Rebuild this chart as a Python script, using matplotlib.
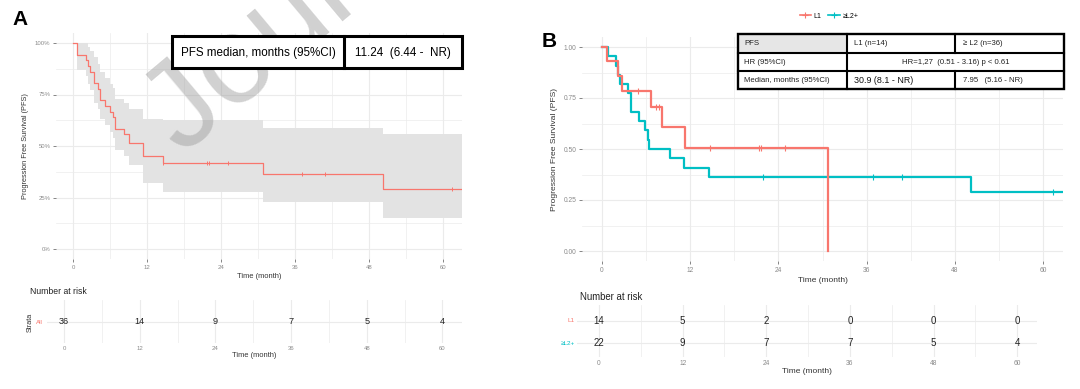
import numpy as np
import matplotlib
matplotlib.use("Agg")
import matplotlib.pyplot as plt
from matplotlib.patches import Rectangle
from matplotlib.lines import Line2D

plt.rcParams['font.family'] = ['Liberation Sans', 'DejaVu Sans']

# ---------------- data ----------------
# Panel A: all patients
a_times = [0, 0.7, 2.1, 2.5, 2.75, 3.4, 4.1, 4.4, 5.2, 6.0, 6.4, 6.8, 8.2, 9.0, 11.3, 14.6, 30.8, 50.2]
a_surv = [1.0, .944, .917, .889, .861, .806, .778, .722, .694, .667, .639, .583, .556, .513, .451, .416, .366, .293]
a_upper = [1.0, 1.0, 1.0, .98, .96, .93, .90, .86, .83, .80, .78, .73, .71, .68, .63, .626, .587, .558]
a_lower = [1.0, .87, .84, .80, .77, .71, .68, .63, .60, .57, .54, .48, .45, .41, .32, .278, .227, .149]
a_end = 63.0
a_censor = [14.6, 21.7, 22.1, 25.1, 37.1, 40.8, 61.4]

# Panel B: L1 vs >=L2+
b_l1_times = [0, 0.7, 2.2, 2.7, 6.6, 8.1, 11.3, 30.8]
b_l1_surv = [1.0, .929, .857, .786, .707, .606, .505, 0.0]
b_l1_end = 30.8
b_l1_censor = [4.9, 7.3, 7.8, 14.7, 21.3, 21.7, 24.9]

b_l2_times = [0, 0.85, 1.9, 2.2, 2.45, 3.6, 3.95, 5.1, 5.85, 6.2, 6.45, 9.2, 11.2, 14.6, 50.2]
b_l2_surv = [1.0, .955, .909, .864, .818, .773, .682, .636, .591, .545, .5, .455, .409, .364, .291]
b_l2_end = 62.7
b_l2_censor = [21.9, 36.9, 40.8, 61.3]

risk_times = [0, 12, 24, 36, 48, 60]
a_risk = [36, 14, 9, 7, 5, 4]
b_risk_l1 = [14, 5, 2, 0, 0, 0]
b_risk_l2 = [22, 9, 7, 7, 5, 4]

x_ticks = [0, 12, 24, 36, 48, 60]
b_labels = ['L1', '≥L2+']

RED = '#F8766D'
TEAL = '#00BFC4'
GRID = '#ebebeb'
W, H = 1080, 389

fig = plt.figure(figsize=(W / 100, H / 100), dpi=100)


def px_axes(l, t, r, b, **kw):
    return fig.add_axes([l / W, 1 - b / H, (r - l) / W, (b - t) / H], **kw)


def style_minimal(ax, xmin, xmax, ymaj, ymin_, tick_fs, tcol='#8a8a8a'):
    for s in ax.spines.values():
        s.set_visible(False)
    ax.set_facecolor('none')
    ax.set_xticks(x_ticks)
    ax.set_xticks([6, 18, 30, 42, 54], minor=True)
    ax.set_yticks(ymaj)
    ax.set_yticks(ymin_, minor=True)
    ax.grid(True, which='major', color=GRID, lw=0.8)
    ax.grid(True, which='minor', color=GRID, lw=0.5)
    ax.set_axisbelow(True)
    ax.tick_params(which='major', length=2, width=0.5, color='#555555',
                   labelsize=tick_fs, labelcolor=tcol, pad=2)
    ax.tick_params(which='minor', length=0)
    ax.set_xlim(xmin, xmax)


def km_xy(times, surv, end):
    return list(times) + [end], list(surv) + [surv[-1]]


def at_time(times, surv, t):
    idx = np.searchsorted(times, t, side='right') - 1
    return np.asarray(surv)[idx]


# ---------------- Panel A main ----------------
axA = px_axes(56, 32.7, 462, 259.3)
style_minimal(axA, -2.76, 63.0, [0, .25, .5, .75, 1.0], [.125, .375, .625, .875], 4.3)
axA.set_ylim(-0.05, 1.05)
axA.set_yticklabels(['0%', '25%', '50%', '75%', '100%'])
xs, lo = km_xy(a_times, a_lower, a_end)
_, up = km_xy(a_times, a_upper, a_end)
axA.fill_between(xs, lo, up, step='post', color='#e3e3e3', lw=0, zorder=2)
xs, ys = km_xy(a_times, a_surv, a_end)
axA.step(xs, ys, where='post', color=RED, lw=0.9, zorder=3)
axA.plot(a_censor, at_time(a_times, a_surv, a_censor), ls='none', marker='|',
         ms=3.5, mew=0.7, color=RED, zorder=3)
axA.set_ylabel('Progression Free Survival (PFS)', fontsize=5.3, color='#333333', labelpad=4)
axA.set_xlabel('Time (month)', fontsize=5.4, color='#333333', labelpad=2)

# ---------------- Panel A risk table ----------------
axAr = px_axes(47, 300, 462, 343)
style_minimal(axAr, -2.7, 63.1, [0.5], [], 4.3)
axAr.set_ylim(0, 1)
axAr.set_yticklabels([''])
axAr.tick_params(axis='y', length=0)
axAr.tick_params(axis='x', length=0)
for t, n in zip(risk_times, a_risk):
    axAr.text(t, 0.5, str(n), ha='center', va='center', fontsize=6.6, color='#222222')
axAr.set_xlabel('Time (month)', fontsize=5.4, color='#333333', labelpad=1)

# ---------------- Panel B main ----------------
axB = px_axes(582, 36.8, 1063, 261.2)
style_minimal(axB, -2.72, 62.72, [0, .25, .5, .75, 1.0], [.125, .375, .625, .875], 4.8)
axB.set_ylim(-0.05, 1.05)
axB.set_yticklabels(['0.00', '0.25', '0.50', '0.75', '1.00'])
xs, ys = km_xy(b_l2_times, b_l2_surv, b_l2_end)
axB.step(xs, ys, where='post', color=TEAL, lw=1.6, zorder=3)
xs, ys = km_xy(b_l1_times, b_l1_surv, b_l1_end)
axB.step(xs, ys, where='post', color=RED, lw=1.6, zorder=3)
axB.plot(b_l1_censor, at_time(b_l1_times, b_l1_surv, b_l1_censor), ls='none', marker='|',
         ms=4.5, mew=0.8, color=RED, zorder=4)
axB.plot(b_l2_censor, at_time(b_l2_times, b_l2_surv, b_l2_censor), ls='none', marker='|',
         ms=4.5, mew=0.8, color=TEAL, zorder=4)
axB.set_ylabel('Progression Free Survival (PFS)', fontsize=6.1, color='#333333', labelpad=4)
axB.set_xlabel('Time (month)', fontsize=6.0, color='#333333', labelpad=2)

# ---------------- Panel B risk table ----------------
axBr = px_axes(577, 305, 1037, 357)
style_minimal(axBr, -3.16, 62.84, [1, 2], [], 4.8)
axBr.set_ylim(0.39, 2.69)
axBr.set_yticklabels(['', ''])
axBr.tick_params(axis='y', length=0)
axBr.tick_params(axis='x', length=0)
for t, n1, n2 in zip(risk_times, b_risk_l1, b_risk_l2):
    axBr.text(t, 2, str(n1), ha='center', va='center', fontsize=7.0, color='#222222')
    axBr.text(t, 1, str(n2), ha='center', va='center', fontsize=7.0, color='#222222')
axBr.set_xlabel('Time (month)', fontsize=6.0, color='#333333', labelpad=1)

# ---------------- overlay: labels, tables, watermark ----------------
ov = fig.add_axes([0, 0, 1, 1], zorder=10)
ov.set_xlim(0, W)
ov.set_ylim(H, 0)
ov.axis('off')
ov.patch.set_alpha(0)

ov.text(182, 156, 'Journal Pre-proof', rotation=40, rotation_mode='anchor',
        fontsize=90, color='#9a9a9a', alpha=0.45, ha='left', va='baseline', zorder=1)

ov.text(12, 25, 'A', fontsize=15, fontweight='bold', ha='left', va='baseline', zorder=6)
ov.text(542, 47, 'B', fontsize=15, fontweight='bold', ha='left', va='baseline', zorder=6)

# Table A
ov.add_patch(Rectangle((172, 36), 290, 32, facecolor='white', edgecolor='black', lw=2.2, zorder=5))
ov.plot([344, 344], [36, 68], color='black', lw=2.2, zorder=6)
ov.text(258, 52.5, 'PFS median, months (95%CI)', fontsize=8.4, ha='center', va='center', zorder=7)
ov.text(403, 52.5, '11.24  (6.44 -  NR)', fontsize=8.4, ha='center', va='center', zorder=7)

# Table B
ov.add_patch(Rectangle((738, 34), 326, 55, facecolor='white', edgecolor='none', zorder=5))
ov.add_patch(Rectangle((738, 34), 109, 19, facecolor='#e6e6e6', edgecolor='none', zorder=5))
ov.add_patch(Rectangle((738, 34), 326, 55, facecolor='none', edgecolor='black', lw=1.7, zorder=6))
for yy in (53, 71):
    ov.plot([738, 1064], [yy, yy], color='black', lw=1.5, zorder=6)
ov.plot([847, 847], [34, 89], color='black', lw=1.5, zorder=6)
ov.plot([955, 955], [34, 53], color='black', lw=1.5, zorder=6)
ov.plot([955, 955], [71, 89], color='black', lw=1.5, zorder=6)
tkw = dict(fontsize=5.6, va='center', zorder=7, color='#222222')
ov.text(744, 43.5, 'PFS', ha='left', **tkw)
ov.text(854, 43.5, 'L1 (n=14)', ha='left', **tkw)
ov.text(963, 43.5, '≥ L2 (n=36)', ha='left', **tkw)
ov.text(744, 62, 'HR (95%CI)', ha='left', **tkw)
ov.text(956, 62, 'HR=1,27  (0.51 - 3.16) p < 0.61', ha='center', **tkw)
ov.text(744, 80, 'Median, months (95%CI)', ha='left', **tkw)
ov.text(854, 80, '30.9 (8.1 - NR)', ha='left', fontsize=6.4, va='center', zorder=7, color='#111111')
ov.text(963, 80, '7.95   (5.16 - NR)', ha='left', **tkw)

# risk table headers / strata labels
ov.text(30, 291, 'Number at risk', fontsize=6.2, ha='left', va='center', color='#222222', zorder=6)
ov.text(30, 322, 'Strata', fontsize=5.2, rotation=90, ha='center', va='center', color='#333333', zorder=6)
ov.text(43, 322, 'All', fontsize=4.5, ha='right', va='center', color=RED, zorder=6)
ov.text(580, 297, 'Number at risk', fontsize=6.9, ha='left', va='center', color='#222222', zorder=6)
ov.text(575, 320.7, b_labels[0], fontsize=4.6, ha='right', va='center', color=RED, zorder=6)
ov.text(575, 343.3, b_labels[1], fontsize=4.6, ha='right', va='center', color=TEAL, zorder=6)

# legend B
handles = [Line2D([], [], color=RED, lw=1.2, marker='+', ms=4, mew=0.8),
           Line2D([], [], color=TEAL, lw=1.2, marker='+', ms=4, mew=0.8)]
fig.legend(handles, b_labels, loc='center', bbox_to_anchor=(829 / W, 1 - 16 / H), ncol=2,
           frameon=False, fontsize=5, handlelength=1.6, handletextpad=0.4, columnspacing=1.0)

fig.savefig('out.png', dpi=100)
